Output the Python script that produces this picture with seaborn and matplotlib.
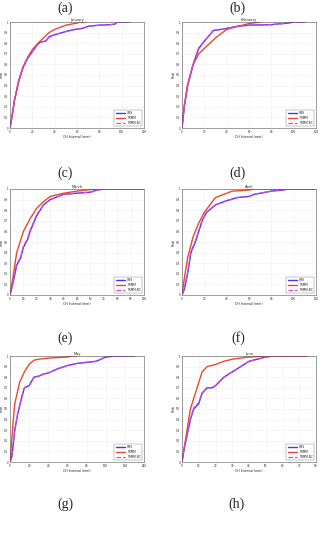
import matplotlib
matplotlib.use("Agg")
import matplotlib.pyplot as plt
import seaborn as sns

sns.set_style("whitegrid")
plt.rcParams['font.family'] = ['DejaVu Sans']

months = ['January', 'February', 'March', 'April', 'May', 'June']
panel_labels = ['(a)', '(b)', '(c)', '(d)', '(e)', '(f)']
extra_labels = ['(g)', '(h)']
xmax = [120, 120, 100, 120, 140, 80]
xstep = [20, 20, 10, 20, 20, 10]

# OBS curves (x, cumulative prob)
obs_x = [
    [0, 2, 4, 8, 12, 16, 20, 24, 27, 32, 35, 40, 50, 58, 65, 70, 80, 90, 94, 96, 107],
    [0, 2, 5, 10, 15, 20, 25, 28, 35, 40, 50, 60, 80, 90, 95, 100, 110],
    [0, 2, 5, 8, 10, 13, 15, 20, 25, 30, 40, 50, 60, 65, 70, 100],
    [0, 2, 5, 8, 12, 15, 18, 22, 30, 40, 50, 60, 65, 70, 80, 90, 95, 120],
    [0, 2, 5, 8, 12, 15, 20, 25, 30, 35, 40, 50, 60, 70, 80, 90, 100, 110, 130],
    [0, 1, 3, 5, 7, 10, 12, 15, 18, 20, 25, 30, 35, 40, 45, 50, 55, 75],
]
obs_y = [
    [0, 0.12, 0.26, 0.45, 0.58, 0.66, 0.72, 0.78, 0.81, 0.82, 0.86, 0.88, 0.91, 0.93, 0.94, 0.96, 0.97, 0.975, 0.98, 1.0, 1.0],
    [0, 0.2, 0.4, 0.6, 0.75, 0.82, 0.88, 0.92, 0.93, 0.94, 0.96, 0.97, 0.975, 0.985, 0.99, 1.0, 1.0],
    [0, 0.1, 0.28, 0.35, 0.45, 0.52, 0.6, 0.75, 0.85, 0.9, 0.95, 0.96, 0.97, 0.99, 1.0, 1.0],
    [0, 0.05, 0.2, 0.4, 0.5, 0.6, 0.7, 0.78, 0.85, 0.89, 0.92, 0.93, 0.95, 0.96, 0.98, 0.99, 1.0, 1.0],
    [0, 0.05, 0.3, 0.45, 0.6, 0.7, 0.72, 0.8, 0.81, 0.83, 0.84, 0.88, 0.91, 0.93, 0.94, 0.95, 0.99, 1.0, 1.0],
    [0, 0.1, 0.25, 0.4, 0.5, 0.55, 0.65, 0.7, 0.7, 0.72, 0.8, 0.85, 0.9, 0.95, 0.97, 0.99, 1.0, 1.0],
]

# TRMM curves
trmm_x = [
    [0, 2, 4, 8, 12, 16, 20, 25, 30, 35, 40, 45, 50, 55, 60, 63, 68],
    [0, 2, 5, 10, 15, 20, 25, 30, 35, 40, 50, 60, 70],
    [0, 2, 5, 10, 15, 20, 25, 30, 40, 50, 60, 65, 70],
    [0, 2, 5, 10, 15, 20, 25, 30, 35, 40, 45, 60, 65, 95],
    [0, 1, 3, 5, 10, 15, 20, 25, 30, 40, 60, 65, 70],
    [0, 1, 3, 5, 8, 10, 12, 15, 20, 25, 30, 35, 40, 50, 75],
]
trmm_y = [
    [0, 0.12, 0.26, 0.45, 0.58, 0.67, 0.74, 0.8, 0.85, 0.9, 0.93, 0.95, 0.97, 0.98, 0.99, 1.0, 1.0],
    [0, 0.2, 0.4, 0.6, 0.7, 0.75, 0.8, 0.85, 0.89, 0.93, 0.96, 0.985, 1.0],
    [0, 0.15, 0.4, 0.6, 0.72, 0.82, 0.88, 0.93, 0.96, 0.98, 0.995, 1.0, 1.0],
    [0, 0.15, 0.35, 0.55, 0.68, 0.78, 0.85, 0.92, 0.94, 0.96, 0.98, 0.99, 1.0, 1.0],
    [0, 0.1, 0.35, 0.55, 0.75, 0.85, 0.92, 0.96, 0.97, 0.98, 0.99, 1.0, 1.0],
    [0, 0.1, 0.3, 0.5, 0.65, 0.75, 0.85, 0.9, 0.92, 0.95, 0.97, 0.98, 0.99, 1.0, 1.0],
]

# TRMM-BC curves (close to OBS)
bc_x = [
    [0, 2, 4, 8, 12, 16, 20, 24, 27, 32, 35, 40, 50, 58, 65, 70, 80, 90, 94, 96, 107],
    [0, 2, 5, 10, 15, 20, 25, 28, 35, 40, 50, 60, 80, 90, 95, 100, 110],
    [0, 2, 5, 8, 10, 13, 15, 20, 25, 30, 40, 50, 60, 65, 70, 100],
    [0, 2, 5, 8, 12, 15, 18, 22, 30, 40, 50, 60, 65, 70, 80, 90, 95, 120],
    [0, 2, 5, 8, 12, 15, 20, 25, 30, 35, 40, 50, 60, 70, 80, 90, 100, 110, 128],
    [0, 1, 3, 5, 7, 10, 12, 15, 18, 20, 25, 30, 35, 40, 45, 50, 55, 75],
]
bc_y = [
    [0, 0.13, 0.27, 0.46, 0.59, 0.67, 0.72, 0.78, 0.81, 0.82, 0.86, 0.88, 0.91, 0.93, 0.94, 0.96, 0.97, 0.975, 0.98, 1.0, 1.0],
    [0, 0.21, 0.41, 0.61, 0.76, 0.82, 0.88, 0.92, 0.93, 0.94, 0.96, 0.97, 0.975, 0.985, 0.99, 1.0, 1.0],
    [0, 0.11, 0.29, 0.36, 0.46, 0.53, 0.61, 0.76, 0.85, 0.9, 0.95, 0.96, 0.97, 0.99, 1.0, 1.0],
    [0, 0.06, 0.21, 0.41, 0.51, 0.61, 0.7, 0.78, 0.85, 0.89, 0.92, 0.93, 0.95, 0.96, 0.98, 0.99, 1.0, 1.0],
    [0, 0.06, 0.31, 0.46, 0.61, 0.7, 0.72, 0.8, 0.81, 0.83, 0.84, 0.88, 0.91, 0.93, 0.94, 0.95, 0.99, 1.0, 1.0],
    [0, 0.11, 0.26, 0.41, 0.51, 0.56, 0.65, 0.7, 0.7, 0.72, 0.8, 0.85, 0.9, 0.95, 0.97, 0.99, 1.0, 1.0],
]

W, H = 322, 537
fig = plt.figure(figsize=(W / 100, H / 100), dpi=100)

lefts = [10, 182]
tops = [22, 189, 356]
aw, ah = 134, 106
label_pos = [(65, 8), (237, 8), (65, 173), (238, 173), (65, 338), (238, 338), (65, 504), (236, 504)]
all_labels = panel_labels + extra_labels

for i in range(6):
    r, c = divmod(i, 2)
    ax = fig.add_axes([lefts[c] / W, 1 - (tops[r] + ah) / H, aw / W, ah / H])
    sns.lineplot(x=obs_x[i], y=obs_y[i], ax=ax, color='#3a3aff', lw=1.0, label='OBS', sort=False)
    sns.lineplot(x=trmm_x[i], y=trmm_y[i], ax=ax, color='#e8492e', lw=1.0, label='TRMM', sort=False)
    sns.lineplot(x=bc_x[i], y=bc_y[i], ax=ax, color='#e040e0', lw=0.9, ls='--', label='TRMM-BC', sort=False)
    ax.set_xlim(0, xmax[i])
    ax.set_ylim(0, 1)
    ax.set_xticks(range(0, xmax[i] + 1, xstep[i]))
    ax.set_yticks([k / 10 for k in range(11)])
    ax.set_yticklabels(['0'] + [f'{k/10:.1f}' for k in range(1, 10)] + ['1'])
    ax.tick_params(labelsize=2.0, length=0.8, pad=0.6)
    ax.grid(True, color='#d8d8d8', ls=':', lw=0.4)
    for s in ax.spines.values():
        s.set_color('#555555')
        s.set_linewidth(0.4)
    ax.set_title(months[i], fontsize=2.6, pad=1)
    ax.set_xlabel('CH Interval (mm)', fontsize=2.3, labelpad=0.8)
    ax.set_ylabel('Prob', fontsize=2.3, labelpad=0.3)
    leg = ax.legend(loc='lower right', fontsize=2.2, handlelength=3, frameon=True,
                    fancybox=False, borderpad=0.5, labelspacing=0.3)
    leg.get_frame().set_linewidth(0.3)
    leg.get_frame().set_edgecolor('#555555')

for lab, (x, y) in zip(all_labels, label_pos):
    fig.text(x / W, 1 - y / H, lab, ha='center', va='center', fontsize=10,
             family='Liberation Serif')

fig.savefig('out.png', dpi=100)
